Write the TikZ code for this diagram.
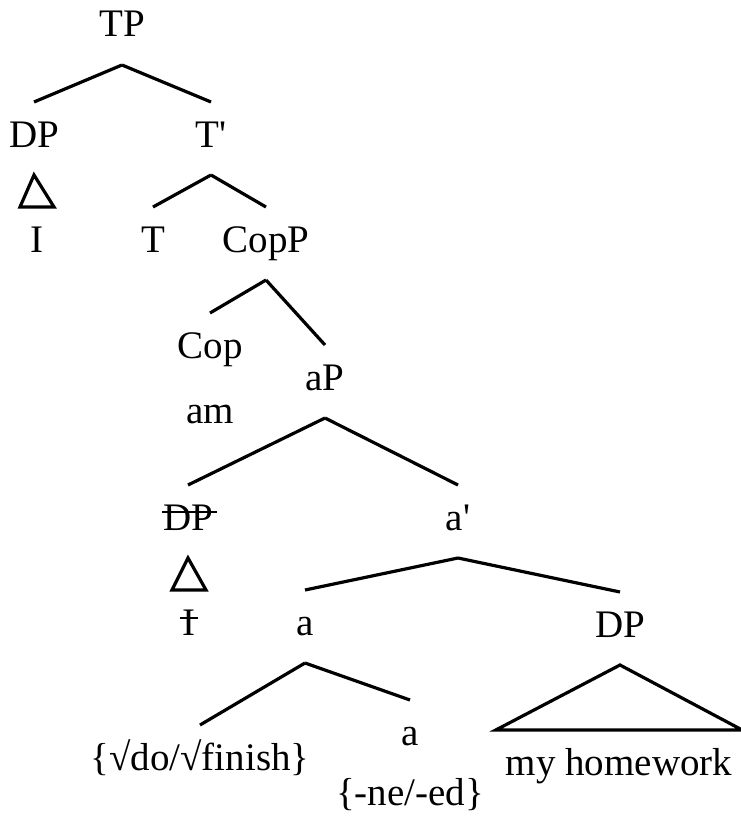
\documentclass[tikz,border=0pt]{standalone}
\usepackage{fontspec}
\setmainfont{Liberation Serif}[Ligatures=TeXOff]
\begin{document}
\begin{tikzpicture}
    [
    x=1pt,y=-1pt,
    cat/.style={anchor=base,inner sep=0pt,outer xsep=0pt,outer ysep=18pt,text height=27pt,text depth=10pt,font=\fontsize{39}{46}\selectfont},
    leaf/.style={cat,inner xsep=10pt},
    branch/.style={line width=3.2pt},
    strike/.style={line width=1.8pt}
    ]
    \useasboundingbox (0,0) rectangle (741,816);
    \node (tp) at (122,37) [cat] {TP};
    \node (dpa) at (34,147) [cat] {DP};
    \node (tbar) at (211,147) [cat] {T'};
    \node (ia) at (37,252) [cat] {I};
    \node (t) at (153,252) [cat] {T};
    \node (copp) at (266,252) [cat] {CopP};
    \node (cop) at (210,358) [cat] {Cop};
    \node (am) at (210,423) [cat] {am};
    \node (ap) at (325,390) [cat] {aP};
    \node (dpb) at (188,530) [cat] {DP};
    \node (abar) at (458,530) [cat] {a'};
    \node (ib) at (189,635) [cat] {I};
    \node (asm) at (305,635) [cat] {a};
    \node (dpc) at (620,637) [cat] {DP};
    \node (root) at (200,770) [cat] {\{√do/√finish\}};
    \node (alow) at (410,745) [cat] {a};
    \node (affix) at (410,805) [cat] {\{-ne/-ed\}};
    \node (hw) at (619,775) [leaf] {my homework};
    \draw [branch] (tp.south) to (dpa.north);
    \draw [branch] (tp.south) to (tbar.north);
    \draw [branch] (tbar.south) to (t.north);
    \draw [branch] (tbar.south) to (copp.north);
    \draw [branch] (copp.south) to (cop.north);
    \draw [branch] (copp.south) to (ap.north);
    \draw [branch] (ap.south) to (dpb.north);
    \draw [branch] (ap.south) to (abar.north);
    \draw [branch] (abar.south) to (asm.north);
    \draw [branch] (abar.south) to (dpc.north);
    \draw [branch] (asm.south) to (root.north);
    \draw [branch] (asm.south) to (alow.north);
    % triangles
    \draw [branch,line join=miter] (dpa.south) -- ([xshift=-17pt]ia.north) -- ([xshift=17pt]ia.north) -- cycle;
    \draw [branch,line join=miter] (dpb.south) -- ([xshift=-17pt]ib.north) -- ([xshift=17pt]ib.north) -- cycle;
    \draw [branch,line join=miter] (dpc.south) -- (hw.north west) -- (hw.north east) -- cycle;
    % struck copies
    \draw [strike] ([shift={(-1,-18)}]dpb.base west) -- ([shift={(4,-18)}]dpb.base east);
    \draw [strike] ([shift={(-3,-17)}]ib.base west) -- ([shift={(3,-17)}]ib.base east);
  \end{tikzpicture}
\end{document}
